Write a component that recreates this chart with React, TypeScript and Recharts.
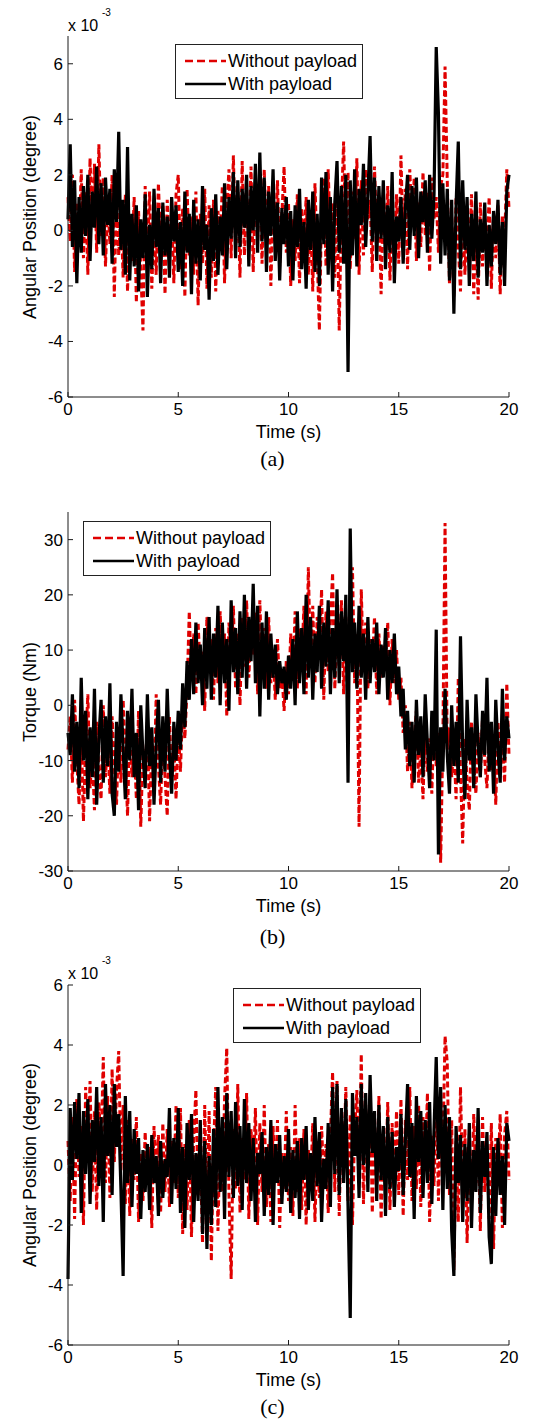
import React from 'react';
import { LineChart, Line, XAxis, YAxis, Legend } from 'recharts';

const FONT = '"Liberation Sans", Arial, Helvetica, sans-serif';
const SERIF = '"Liberation Serif", "Times New Roman", serif';

// time axis, 0..20 s at 0.1 s
const TIME = Array.from({ length: 201 }, (_, i) => i / 10);
const X_TICKS = [0, 5, 10, 15, 20];

// (a) angular position, x 10^-3 degree
const A_TICKS = [-6, -4, -2, 0, 2, 4, 6];
const A_WITHOUT = [
  1.2, -0.4, 2.0, -1.5, 1.0, -0.6, 2.2, -1.0, 1.4, -1.6,
  2.6, 0.2, 2.4, -0.8, 3.1, -0.2, 1.9, -1.3, 1.1, -0.5,
  2.0, -2.4, 1.5, -0.9, 0.8, -1.7, 1.3, -2.2, 0.5, -1.1,
  1.2, -2.6, 0.7, -1.4, -3.6, 1.6, -0.8, 1.4, -2.1, 0.3,
  -1.6, 1.7, -0.5, 0.9, -2.3, 1.1, -0.7, 0.6, -1.9, 1.3,
  2.0, -1.4, 0.8, -2.4, 1.5, -0.9, 0.5, -1.6, 1.4, -2.7,
  0.6, -1.2, 1.5, -2.1, 0.9, -1.7, 1.1, -2.2, 0.7, -0.4,
  1.6, -1.9, 0.8, 2.2, -1.0, 2.7, -0.6, 1.4, -1.7, 2.5,
  -0.9, 1.1, -0.1, 2.3, -1.5, 1.7, 0.3, 1.5, -1.2, 2.2,
  -0.6, 1.6, -2.0, 0.9, -0.4, 1.8, -1.3, 0.6, 2.3, -0.8,
  1.0, -2.0, 0.4, -1.1, 1.3, -1.9, 0.8, -0.5, 1.2, -1.6,
  0.5, -2.2, 1.7, -0.9, -3.6, 0.7, 1.9, -1.3, 2.2, -0.4,
  1.0, -1.7, 1.6, -3.6, 0.8, 3.2, -0.5, 2.1, -1.4, 1.4,
  -0.3, 2.6, -1.6, 1.8, -0.9, 2.2, 0.4, 1.1, -1.5, 2.3,
  -0.2, 0.9, -2.3, 1.2, -0.6, 1.6, -1.8, 0.7, -0.9, 1.3,
  -1.2, 2.7, -0.5, 1.5, -1.4, 2.2, 0.2, 1.9, -1.1, 1.0,
  -0.6, 2.1, -0.2, 1.4, -1.5, 1.9, 0.4, 1.2, -0.8, 1.6,
  2.0, 5.9, 1.8, -1.9, 0.5, -2.4, 1.2, -0.6, -2.2, 0.9,
  -1.6, 0.5, -0.9, 1.3, -2.3, 0.2, -2.5, 1.0, -1.3, 0.4,
  -0.7, 1.2, -2.1, 0.6, -1.0, 0.9, -2.3, 0.5, -0.4, 2.2,
  0.8,
];
const A_WITH = [
  0.4, 3.1, -0.6, 1.8, -1.9, 1.2, -0.8, 1.6, -0.2, 2.0,
  -1.1, 1.4, 0.1, 2.3, -0.5, 1.7, -0.9, 1.9, 0.2, 1.5,
  -1.2, 2.2, 0.3, 3.55, -0.7, 1.1, -1.6, 3.0, -1.8, 0.6,
  -1.3, 0.9, -2.2, 0.4, -1.0, 1.3, -2.4, 0.2, -1.4, 1.5,
  -0.6, 0.8, -1.9, 1.0, -0.9, 0.5, -1.7, 1.2, -0.4, 0.9,
  -1.5, 0.3, -2.0, 1.4, -0.8, 0.6, -2.3, 1.1, -1.2, 0.4,
  -1.8, 1.6, -0.7, 0.2, -2.5, 0.8, -1.1, 1.3, -1.6, 0.5,
  -0.9, 1.7, -1.4, 1.2, -0.3, 2.1, -1.0, 1.8, -0.6, 1.5,
  0.1, 2.0, -1.3, 1.6, 0.0, 2.4, -0.8, 2.8, -0.4, 1.9,
  -1.5, 1.4, -0.2, 2.2, -1.1, 1.0, -1.8, 0.8, -0.5, 1.2,
  -1.3, 0.7, -1.8, 0.9, -0.6, 1.5, -1.4, 0.3, -2.1, 1.1,
  -0.7, 1.4, -1.5, 0.6, -2.0, 1.9, -0.5, 2.1, -1.6, 1.2,
  -2.2, 1.0, 2.5, -0.8, 1.6, -1.2, 2.0, -5.1, 1.8, -0.9,
  2.2, -1.3, 1.5, 0.2, 2.4, -0.6, 1.3, 3.4, -0.4, 1.9,
  -1.1, 1.6, -0.3, 1.8, -1.4, 0.9, -0.8, 2.1, -1.9, 0.5,
  -0.4, 1.2, -1.2, 0.8, 2.0, -0.7, 1.6, -0.2, 1.9, -1.0,
  1.4, 0.3, 1.8, -0.8, 2.0, -0.3, 1.3, 6.6, 4.2, -1.2,
  1.7, -0.9, 1.5, -1.8, 1.1, -3.0, 0.9, 3.2, -1.4, 1.8,
  -0.7, 1.2, -2.0, 0.6, -1.1, 1.4, -1.7, 0.4, -0.8, 1.0,
  -2.0, 0.2, -1.3, 0.7, -0.5, 1.1, -1.6, 0.3, -2.0, 1.4,
  2.0,
];

// (b) torque, Nm
const B_TICKS = [-30, -20, -10, 0, 10, 20, 30];
const B_WITHOUT = [
  -8, -2, -14, 1, -10, -18, -4, -21, -7, 2,
  -15, -9, -19, -3, -12, -17, 0, -13, -6, -16,
  -2, -11, -18, -5, -14, 1, -9, -20, -4, -13,
  -7, -17, -1, -22, -8, -12, -3, -21, -6, -15,
  2, -11, -18, -5, -13, -20, -2, -14, -7, -17,
  -4, -12, 0, -6, 3, 17, 5, 13, 2, 15,
  6, 10, -1, 16, 7, 12, 1, 14, 4, 17,
  6, 13, -2, 15, 8, 18, 3, 13, 0, 16,
  7, 19, 5, 14, 9, 17, 2, 19, 6, 14,
  3, 16, 4, 10, 1, 12, 3, 6, -1, 8,
  2, 13, 5, 17, 3, 14, 8, 18, 2, 25,
  7, 18, 4, 16, 9, 21, 1, 17, 6, 15,
  24, 3, 14, 7, 19, 2, 16, 9, 18, 25,
  4, 13, -22, 21, 6, 15, 3, 12, 7, 16,
  2, 13, 5, 11, 8, 15, 0, 12, 4, 10,
  1, 5, -5, 0, -12, -3, -15, -6, -1, -14,
  -8, -17, -3, -12, -6, -16, -2, -11, -5, -28.5,
  -6, 33, -8, -4, -13, -7, -17, 5, -12, -25,
  -6, -14, -19, -3, -11, -16, -5, -13, -2, -10,
  -15, -4, -12, -7, -18, -3, -11, -6, -14, 4,
  -9,
];
const B_WITH = [
  -5, -9, 2, -12, -3, -15, 5, -10, -1, -17,
  -4, -13, 3, -18, -6, 1, -14, -2, -11, 4,
  -16, -20, -3, -12, 2, -8, -17, -1, -10, 3,
  -13, -5, -19, 0, -9, -15, 2, -11, -4, -18,
  -7, 1, -14, -2, -12, 3, -9, -16, -3, -10,
  -1, -8, 4, -4, 8, 1, 12, 2, 15, 4,
  11, 0, 14, 3, 16, 1, 13, 5, 18, 0,
  15, 4, 12, -1, 19, 6, 14, 2, 17, 5,
  20, 3, 16, 8, 22, 4, 18, -2, 15, 3,
  17, 1, 13, 5, 11, 2, 8, 4, 7, 1,
  9, 3, 12, 0, 17, 4, 14, 2, 20, 5,
  16, 1, 13, 6, 18, 3, 15, 7, 19, 2,
  14, 5, 21, 4, 17, 8, 20, -14, 32, 6,
  15, 3, 18, 5, 13, 1, 16, 4, 12, 6,
  15, 2, 11, 5, 14, 1, 10, 4, 13, 2,
  7, -2, 3, -8, -1, -11, -3, -14, 1, -9,
  -2, -13, 2, -7, -15, -1, -10, 13.7, -27, -4,
  -12, 3, -9, -16, 0, -11, -3, -14, 12.5, -8,
  -17, 1, -10, -4, -15, 2, -7, -13, -1, -9,
  5, -12, -3, -16, 1, -8, -14, 3, -10, -2,
  -6,
];

// (c) angular position, x 10^-3 degree
const C_TICKS = [-6, -4, -2, 0, 2, 4, 6];
const C_WITHOUT = [
  0.8, -1.2, 1.6, -1.8, 2.2, -0.4, 1.3, -2.0, 2.6, 0.3,
  2.8, -0.9, 1.8, -1.5, 2.1, 0.5, 3.6, -0.6, 2.3, -1.1,
  3.2, 0.1, 2.5, 3.8, -0.2, 2.0, -1.3, 1.5, -1.7, 0.9,
  -0.5, 1.6, -1.9, 0.4, -1.2, 1.1, -0.7, 0.6, -2.1, 1.3,
  -0.3, 1.0, -1.6, 1.4, -0.9, 1.2, -1.4, 0.8, -0.6, 2.0,
  -1.1, 1.9, -2.3, 0.7, -1.5, 1.5, -2.4, 0.9, 2.5, -1.0,
  0.5, -2.6, 2.0, -1.7, 1.8, -3.2, 0.6, 2.6, -2.2, 1.1,
  -0.9, 2.2, 3.9, -1.0, -3.8, 1.2, -0.8, 2.7, -1.6, 0.9,
  -0.5, 2.4, -1.8, 1.2, -0.4, 1.9, -2.0, 1.4, -0.9, 2.0,
  -1.4, 0.7, -1.9, 1.3, -0.6, 1.5, -2.1, 0.4, -0.8, 1.8,
  -1.2, 0.6, -1.7, 2.0, -0.9, 0.9, -1.5, 1.2, -2.0, 0.5,
  -0.7, 1.4, -1.9, 0.8, -1.1, 1.3, -0.5, 0.7, -1.6, 1.0,
  3.1, -0.9, 2.8, -1.7, 1.6, 0.0, 2.6, -1.2, 1.7, -2.0,
  1.2, 2.5, -0.6, 3.7, -1.3, 2.0, -0.1, 2.5, -1.6, 1.1,
  -0.6, 2.3, -1.8, 0.9, -0.7, 2.1, -1.5, 1.4, -0.3, 1.8,
  -1.0, 2.2, -1.7, 1.5, -0.5, 2.6, -1.2, 1.3, -0.8, 2.0,
  -1.4, 1.6, -0.2, 2.4, -1.9, 1.0, -0.7, 2.6, -1.2, 1.9,
  0.5, 4.3, 3.4, -1.0, 1.5, -3.5, 0.8, -1.9, 2.6, -0.8,
  1.2, -2.6, 0.6, -1.3, 1.7, -0.6, 1.2, -2.2, 1.6, -0.9,
  0.7, -1.8, 1.4, -2.8, 0.9, -0.4, 1.7, -2.1, 1.0, 1.8,
  -0.5,
];
const C_WITH = [
  -3.8, 1.9, -0.5, 2.1, 0.2, 2.4, -1.6, 1.8, -0.3, 2.2,
  -1.3, 1.5, 0.1, 2.6, -0.7, 1.6, -1.9, 2.7, 0.3, 2.0,
  -1.0, 2.7, 0.6, 1.7, -0.8, -3.7, 2.3, -0.6, 1.8, -1.4,
  1.2, -0.3, 0.9, -1.8, 0.5, -0.9, 0.7, -1.5, 1.0, -0.6,
  0.3, -1.7, 0.8, -1.1, 0.2, -0.4, 1.9, -1.3, 0.9, -0.8,
  1.9, -1.6, 0.6, -2.1, 1.4, -0.5, 1.7, -1.9, 0.4, -1.2,
  1.5, -2.3, 0.8, -2.8, 0.3, -2.0, 1.2, -1.4, 2.6, -0.9,
  1.6, -1.8, 2.4, -0.4, 1.8, -1.1, 2.1, -0.7, 1.3, -1.5,
  2.2, -0.6, 1.4, -1.2, 0.9, -1.9, 0.4, -0.3, 1.1, -1.7,
  0.6, -1.0, 1.5, -2.0, 0.7, -0.6, 1.0, -1.3, 0.3, -0.9,
  1.2, -1.6, 0.5, -1.1, 0.8, -1.8, 0.9, -0.5, 1.3, -1.5,
  0.4, -1.2, 1.6, -0.7, 1.1, -1.9, 0.2, -0.8, 1.4, -1.4,
  2.6, -0.3, 2.7, -1.0, 1.9, -0.6, 2.2, -1.4, -5.1, 2.4,
  0.3, 1.6, -1.1, 2.7, 0.0, 2.4, -0.9, 3.0, 0.4, 1.8,
  -1.2, 2.0, -0.5, 1.3, -1.7, 1.6, -0.8, 1.1, -1.4, 0.6,
  -0.2, 1.7, -1.0, 0.8, 2.7, -0.4, 1.4, -1.8, 2.3, 0.1,
  1.8, -1.1, 1.5, -0.6, 2.1, -1.3, 1.2, 3.6, 0.2, 2.6,
  -1.5, 2.0, -0.8, 1.6, -2.2, -3.7, 1.3, -0.6, 1.0, -1.9,
  0.7, -1.2, 1.4, -2.1, 0.5, -0.9, 1.9, -1.6, 0.8, -0.4,
  1.1, -2.4, -3.3, 0.6, -1.7, 0.9, -1.0, 0.3, -2.0, 1.4,
  0.8,
];

const NAME_WITHOUT = 'Without payload';
const NAME_WITH = 'With payload';

const MARGIN = { top: 10, right: 36, bottom: 20, left: 28 };
const X_AXIS_H = 30;
const AXIS_COLOR = '#1a1a1a';

function buildRows(without: number[], withP: number[]) {
  return TIME.map((t, i) => ({ t, without: without[i], with: withP[i] }));
}

function BoxLegend(props: any) {
  // recharts sorts legend items by name; keep plotting order (red dashed first)
  const items = [...(props.payload || [])].sort((a: any, b: any) =>
    a.value === NAME_WITHOUT ? -1 : b.value === NAME_WITHOUT ? 1 : 0,
  );
  return (
    <div
      style={{
        position: 'relative',
        width: 186,
        height: 53,
        border: '1px solid #222',
        background: '#fff',
        fontFamily: FONT,
        fontSize: 18,
        color: '#000',
      }}
    >
      {items.map((entry: any, i: number) => {
        const dashed = entry.value === NAME_WITHOUT;
        const cy = i === 0 ? 16 : 39;
        return (
          <div key={entry.value} style={{ position: 'absolute', left: 0, top: cy - 11, height: 22, width: 186 }}>
            <svg width={52} height={22} style={{ position: 'absolute', left: 0, top: 0 }}>
              <line
                x1={9}
                x2={50}
                y1={11}
                y2={11}
                stroke={entry.color}
                strokeWidth={2.4}
                strokeDasharray={dashed ? '8 4' : undefined}
              />
            </svg>
            <span style={{ position: 'absolute', left: 52, top: 0, lineHeight: '22px', whiteSpace: 'nowrap' }}>
              {entry.value}
            </span>
          </div>
        );
      })}
    </div>
  );
}

interface PanelProps {
  plotTop: number;
  plotHeight: number;
  without: number[];
  withP: number[];
  domain: [number, number];
  ticks: number[];
  yLabel: string;
  legendLeft: number;
  legendTop: number;
  caption: string;
  captionTop: number;
  exponentTop?: number;
}

function Panel(p: PanelProps) {
  const chartTop = p.plotTop - MARGIN.top;
  const height = MARGIN.top + p.plotHeight + X_AXIS_H + MARGIN.bottom;
  const data = buildRows(p.without, p.withP);
  const labelCenter = p.plotTop + p.plotHeight / 2;

  return (
    <>
      <div style={{ position: 'absolute', left: 0, top: chartTop }}>
        <LineChart width={545} height={height} data={data} margin={MARGIN}>
          <XAxis
            dataKey="t"
            type="number"
            domain={[0, 20]}
            ticks={X_TICKS}
            interval={0}
            height={X_AXIS_H}
            stroke={AXIS_COLOR}
            tickSize={-5}
            tickMargin={11}
            tick={{ fill: '#000', fontSize: 17, fontFamily: FONT }}
            label={{ value: 'Time (s)', position: 'bottom', offset: -2, fill: '#000', fontSize: 18, fontFamily: FONT }}
          />
          <XAxis
            xAxisId="top"
            orientation="top"
            type="number"
            domain={[0, 20]}
            ticks={X_TICKS}
            height={0}
            stroke={AXIS_COLOR}
            tickSize={-5}
            tick={false}
          />
          <YAxis
            type="number"
            domain={p.domain}
            ticks={p.ticks}
            interval={0}
            width={40}
            stroke={AXIS_COLOR}
            tickSize={-5}
            tickMargin={10}
            tick={{ fill: '#000', fontSize: 17, fontFamily: FONT }}
          />
          <YAxis
            yAxisId="right"
            orientation="right"
            type="number"
            domain={p.domain}
            ticks={p.ticks}
            width={0}
            stroke={AXIS_COLOR}
            tickSize={-5}
            tick={false}
          />
          <Legend
            layout="horizontal"
            verticalAlign="middle"
            align="center"
            content={BoxLegend}
            wrapperStyle={{ left: p.legendLeft, top: p.legendTop - chartTop, width: 'auto', height: 'auto' }}
          />
          <Line
            name={NAME_WITHOUT}
            dataKey="without"
            type="linear"
            stroke="#e00000"
            strokeWidth={3}
            strokeDasharray="6 3"
            dot={false}
            isAnimationActive={false}
          />
          <Line
            name={NAME_WITH}
            dataKey="with"
            type="linear"
            stroke="#000"
            strokeWidth={3.2}
            dot={false}
            isAnimationActive={false}
          />
        </LineChart>
      </div>
      {/* rotated y-axis title */}
      <div
        style={{
          position: 'absolute',
          left: 30 - 150,
          top: labelCenter - 11,
          width: 300,
          height: 22,
          lineHeight: '22px',
          textAlign: 'center',
          transform: 'rotate(-90deg)',
          fontFamily: FONT,
          fontSize: 18,
          color: '#000',
          whiteSpace: 'nowrap',
        }}
      >
        {p.yLabel}
      </div>
      {p.exponentTop !== undefined && (
        <div style={{ position: 'absolute', left: 68, top: p.exponentTop, fontFamily: FONT, color: '#000' }}>
          <span style={{ fontSize: 16, lineHeight: '16px' }}>x 10</span>
          <span style={{ position: 'absolute', left: 34, top: -9, fontSize: 10, lineHeight: '10px' }}>-3</span>
        </div>
      )}
      <div
        style={{
          position: 'absolute',
          left: 0,
          width: 545,
          top: p.captionTop,
          textAlign: 'center',
          fontFamily: SERIF,
          fontSize: 22,
          lineHeight: '22px',
          color: '#000',
        }}
      >
        {p.caption}
      </div>
    </>
  );
}

export default function App() {
  return (
    <div style={{ position: 'absolute', left: 0, top: 0, width: 545, height: 1424, background: '#fff' }}>
      <Panel
        plotTop={36}
        plotHeight={361}
        without={A_WITHOUT}
        withP={A_WITH}
        domain={[-6, 7]}
        ticks={A_TICKS}
        yLabel="Angular Position (degree)"
        legendLeft={175}
        legendTop={44}
        caption="(a)"
        captionTop={448}
        exponentTop={17}
      />
      <Panel
        plotTop={512}
        plotHeight={359}
        without={B_WITHOUT}
        withP={B_WITH}
        domain={[-30, 35]}
        ticks={B_TICKS}
        yLabel="Torque (Nm)"
        legendLeft={83}
        legendTop={521}
        caption="(b)"
        captionTop={926}
      />
      <Panel
        plotTop={985}
        plotHeight={360}
        without={C_WITHOUT}
        withP={C_WITH}
        domain={[-6, 6]}
        ticks={C_TICKS}
        yLabel="Angular Position (degree)"
        legendLeft={233}
        legendTop={988}
        caption="(c)"
        captionTop={1396}
        exponentTop={965}
      />
    </div>
  );
}
